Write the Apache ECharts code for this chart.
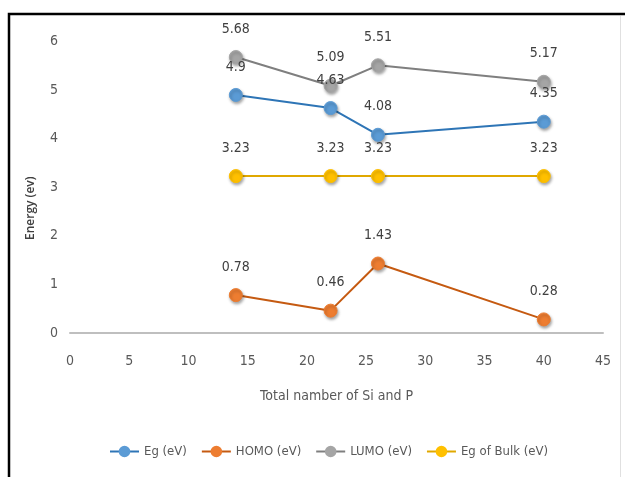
<!DOCTYPE html>
<html>
<head>
<meta charset="utf-8">
<script src="https://cdn.jsdelivr.net/npm/echarts@6.0.0/dist/echarts.min.js"></script>
<style>
  html, body { margin: 0; padding: 0; background: #ffffff; }
  #chart { width: 625px; height: 477px; }
</style>
</head>
<body>
<div id="chart"></div>
<script>
// Cluster sizes (total number of Si and P atoms)
const clusterSizes = [14, 22, 26, 40];
// Energies in eV
const egValues = [4.9, 4.63, 4.08, 4.35];
const homoValues = [0.78, 0.46, 1.43, 0.28];
const lumoValues = [5.68, 5.09, 5.51, 5.17];
const bulkValues = [3.23, 3.23, 3.23, 3.23];
const seriesNames = ['Eg (eV)', 'HOMO (eV)', 'LUMO (eV)', 'Eg of Bulk (eV)'];

const narrow = '"DejaVu Sans Condensed", "Liberation Sans", sans-serif';

function pairs(values) {
  return clusterSizes.map((x, i) => [x, values[i]]);
}

function makeSeries(name, values, lineColor, markerColor) {
  return {
    name: name,
    type: 'line',
    data: pairs(values),
    symbol: 'circle',
    symbolSize: 13,
    lineStyle: { color: lineColor, width: 2 },
    itemStyle: {
      color: markerColor,
      borderColor: markerColor,
      borderWidth: 1,
      shadowColor: 'rgba(0,0,0,0.35)',
      shadowBlur: 3,
      shadowOffsetX: 1,
      shadowOffsetY: 2
    },
    label: {
      show: true,
      position: 'top',
      distance: 14,
      fontFamily: narrow,
      fontSize: 14,
      color: '#404040'
    },
    emphasis: { disabled: true },
    animation: false
  };
}

const chart = echarts.init(document.getElementById('chart'), null, { renderer: 'canvas' });

chart.setOption({
  backgroundColor: '#ffffff',
  animation: false,
  grid: { left: 70, right: 22, top: 41.5, bottom: 144, containLabel: false },
  xAxis: {
    type: 'value',
    min: 0,
    max: 45,
    interval: 5,
    name: 'Total namber of Si and P',
    nameLocation: 'middle',
    nameGap: 56,
    nameTextStyle: { fontFamily: narrow, fontSize: 14, color: '#595959' },
    axisLine: { show: true, lineStyle: { color: '#BFBFBF', width: 2 } },
    axisTick: { show: false },
    splitLine: { show: false },
    axisLabel: { fontFamily: narrow, fontSize: 14, color: '#595959', margin: 21 }
  },
  yAxis: {
    type: 'value',
    min: 0,
    max: 6,
    interval: 1,
    name: 'Energy (ev)',
    nameLocation: 'middle',
    nameGap: 33,
    nameRotate: 90,
    nameTextStyle: {
      fontFamily: '"Open Sans", sans-serif',
      fontWeight: 600,
      fontSize: 12,
      color: '#404040',
      padding: [0, 42, 0, 0]
    },
    axisLine: { show: false },
    axisTick: { show: false },
    splitLine: { show: false },
    axisLabel: { fontFamily: narrow, fontSize: 14, color: '#595959', margin: 12 }
  },
  legend: {
    data: seriesNames,
    left: 104,
    top: 440,
    itemWidth: 29,
    itemHeight: 12,
    itemGap: 14,
    textStyle: { fontFamily: narrow, fontSize: 13, color: '#595959' }
  },
  graphic: [
    {
      type: 'rect',
      shape: { x: 9, y: 14, width: 800, height: 600 },
      style: { fill: null, stroke: '#000000', lineWidth: 2.5 },
      silent: true
    },
    {
      type: 'line',
      shape: { x1: 620.5, y1: 16, x2: 620.5, y2: 477 },
      style: { stroke: '#E0E0E0', lineWidth: 1 },
      silent: true
    }
  ],
  series: [
    makeSeries(seriesNames[0], egValues, '#2E75B6', '#5B9BD5'),
    makeSeries(seriesNames[1], homoValues, '#C55A11', '#ED7D31'),
    makeSeries(seriesNames[2], lumoValues, '#7F7F7F', '#A5A5A5'),
    makeSeries(seriesNames[3], bulkValues, '#E0A800', '#FFC000')
  ]
});
</script>
</body>
</html>
